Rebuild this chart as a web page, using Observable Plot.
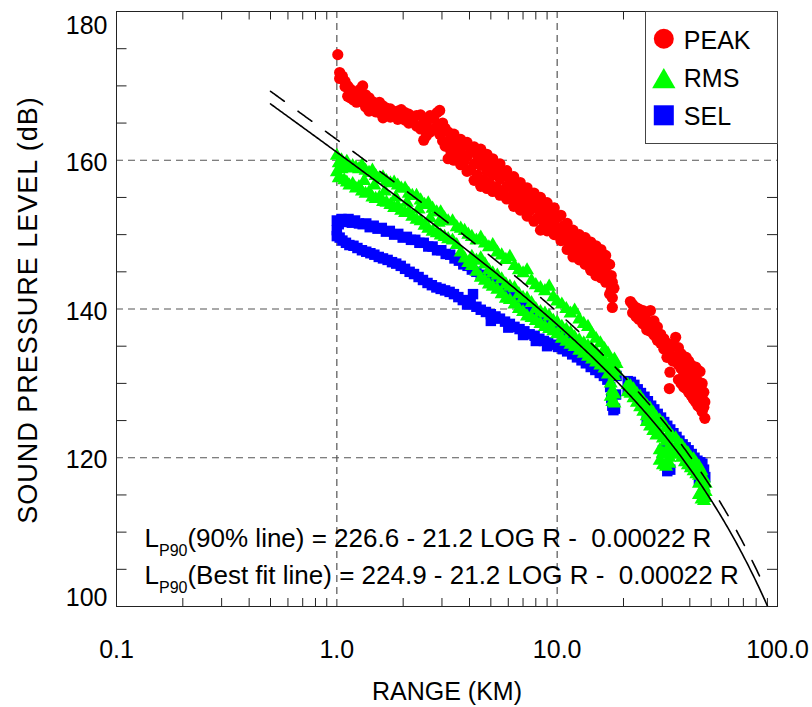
<!DOCTYPE html>
<html><head><meta charset="utf-8">
<script src="https://cdn.jsdelivr.net/npm/d3@7"></script>
<script src="https://cdn.jsdelivr.net/npm/@observablehq/plot@0.6"></script>
<style>
body{margin:0;background:#fff;}
svg{display:block;}
</style></head><body><div id="chart"></div>
<script>
// ---- data (range in km, level in dB) ----
const peakPoints = [
[1.01,174.2],[1.03,171.8],[1.03,171.0],[1.06,171.3],[1.09,170.6],[1.09,169.9],[1.12,170.0],[1.12,168.6],[1.15,168.4],[1.15,169.6],[1.19,169.2],[1.19,168.1],[1.23,169.0],[1.23,167.8],[1.27,168.6],[1.27,169.5],[1.31,170.0],[1.31,168.0],[1.35,168.8],[1.35,167.2],[1.40,168.4],[1.40,166.6],[1.45,167.9],[1.45,167.0],[1.50,167.6],[1.50,166.5],[1.56,167.8],[1.56,166.4],[1.62,167.3],[1.62,165.7],[1.68,167.0],[1.68,166.2],[1.75,166.9],[1.75,165.8],[1.82,166.5],[1.82,165.9],[1.89,166.6],[1.89,165.5],[1.96,166.8],[1.96,165.6],[2.04,166.4],[2.04,165.4],[2.12,166.2],[2.12,165.0],[2.20,165.8],[2.20,165.3],[2.30,166.0],[2.30,164.6],[2.40,166.1],[2.40,164.2],[2.48,165.5],[2.48,162.7],[2.55,165.0],[2.55,163.3],[2.65,166.0],[2.65,163.8],[2.75,165.6],[2.75,164.2],[2.85,166.4],[2.85,164.4],[2.93,166.7],[2.93,163.5],[3.02,165.0],[3.02,162.6],[3.10,164.3],[3.10,161.9],
[3.2,163.8],[3.2,161.8],[3.2,160.2],[3.3,162.9],[3.3,161.0],[3.4,163.5],[3.4,162.0],[3.4,160.0],[3.52,162.6],[3.52,160.6],[3.65,162.8],[3.65,161.0],[3.65,159.4],[3.78,162.0],[3.78,159.8],[3.9,162.4],[3.9,160.5],[3.9,158.5],[4.05,161.2],[4.05,158.7],[4.2,161.8],[4.2,159.5],[4.2,157.3],[4.35,160.6],[4.35,158.0],[4.5,161.5],[4.5,159.3],[4.5,156.5],[4.65,160.2],[4.65,157.3],[4.8,160.8],[4.8,158.5],[4.8,156.2],[4.95,159.4],[4.95,156.8],[5.1,160.2],[5.1,158.0],[5.1,155.8],[5.3,158.9],[5.3,156.4],[5.5,159.5],[5.5,157.5],[5.5,155.3],[5.7,158.1],[5.7,155.9],[5.9,158.6],[5.9,156.5],[5.9,154.8],[6.1,157.3],[6.1,155.0],[6.35,157.8],[6.35,155.8],[6.35,153.8],[6.55,156.6],[6.55,154.6],[6.8,157.0],[6.8,155.0],[6.8,153.3],[7.05,155.9],[7.05,154.0],[7.3,156.3],[7.3,154.5],[7.3,152.5],[7.55,155.2],[7.55,153.3],[7.85,155.6],[7.85,153.6],[7.85,151.8],[8.1,154.3],[8.1,152.2],[8.4,155.0],[8.4,153.0],[8.4,150.6],[8.7,153.8],[8.7,151.6],[9.0,154.3],[9.0,152.4],[9.0,150.5],[9.35,153.0],[9.35,151.0],[9.7,153.6],[9.7,151.7],[9.7,150.0],[10.0,152.3],[10.0,150.1],[10.4,152.6],[10.4,150.8],[10.4,149.2],[10.75,151.2],[10.75,149.3],[11.1,151.5],[11.1,149.8],[11.1,148.0],[11.45,150.3],[11.45,148.3],[11.8,150.6],[11.8,148.8],[11.8,147.0],[12.2,149.6],[12.2,147.6],[12.6,150.0],[12.6,148.3],[12.6,146.6],[13.0,149.0],[13.0,147.1],[13.4,149.6],[13.4,147.8],[13.4,146.0],[13.8,148.6],[13.8,146.5],[14.2,149.0],[14.2,147.3],[14.2,145.2],[14.6,148.0],[14.6,145.8],[15.0,148.5],[15.0,146.8],[15.0,144.5],[15.4,147.5],[15.4,145.3],[15.8,148.0],[15.8,146.3],[15.8,144.2],[16.2,147.0],[16.2,144.8],[16.6,147.2],[16.6,145.5],[16.6,143.6],[17.0,146.0],[17.0,143.9],[17.3,146.0],[17.3,144.0],[17.3,142.0],[17.6,144.5],[17.6,142.6],[17.8,143.6],[17.8,141.5],[17.8,140.2],[18.1,142.8],
[21.5,141.0],[22.0,140.6],[22.0,139.5],[22.8,140.2],[22.8,139.0],[23.0,139.4],[23.5,140.0],[23.5,138.6],[24.5,139.8],[24.5,138.0],[25.0,138.6],[25.5,139.5],[25.5,137.2],[26.5,139.8],[26.5,137.0],[27.0,137.8],[27.5,138.4],[27.5,136.5],[28.5,137.6],[28.5,135.8],[29.0,136.3],[29.5,136.6],[29.5,135.4],[30.5,136.0],[30.5,134.6],[31.0,134.8],[31.5,135.4],[31.5,133.5],[32.3,129.3],[32.5,134.0],[32.5,131.5],[33.0,133.6],[33.5,135.2],[33.5,133.0],[34.5,136.2],[34.5,133.5],[35.0,133.5],[35.5,134.8],[35.5,132.5],[35.5,130.5],[36.5,134.0],[36.5,132.0],[36.5,130.0],[37.0,132.5],[37.5,133.6],[37.5,131.5],[37.5,129.5],[38.5,133.5],[38.5,131.2],[38.5,129.3],[39.0,131.8],[39.5,133.0],[39.5,130.6],[39.5,128.8],[40.5,132.5],[40.5,130.2],[40.5,128.4],[41.0,131.0],[41.5,132.0],[41.5,129.8],[41.5,127.9],[42.5,132.2],[42.5,129.6],[42.5,127.5],[43.0,130.5],[43.5,131.8],[43.5,129.0],[43.5,127.0],[44.5,131.6],[44.5,128.4],[44.5,126.8],[45.0,129.5],[45.5,130.0],[45.5,127.8],[45.5,126.2],[46.3,128.8],[46.3,126.8],[46.5,127.5],[46.8,127.5],[46.8,125.3]
];
const rmsPoints = [
[1.00,160.6],[1.00,158.4],[1.02,159.6],[1.02,157.6],[1.05,160.0],[1.05,158.8],[1.08,159.3],[1.08,157.3],[1.11,159.8],[1.11,157.0],[1.14,158.9],[1.14,156.6],[1.18,159.2],[1.18,156.8],[1.22,159.0],[1.22,156.2],[1.26,158.8],[1.26,156.4],[1.30,159.3],[1.30,155.8],[1.33,157.2],[1.35,158.6],[1.35,155.5],[1.40,158.3],[1.40,155.7],[1.45,158.6],[1.45,155.0],[1.48,156.6],[1.50,157.9],[1.50,154.8],[1.56,157.6],[1.56,155.0],[1.62,157.7],[1.62,154.4],[1.65,155.8],[1.68,157.2],[1.68,154.3],[1.75,156.9],[1.75,154.0],[1.82,157.0],[1.82,153.6],[1.85,155.0],[1.89,156.6],[1.89,153.8],[1.96,156.2],[1.96,153.2],[2.04,156.2],[2.04,152.9],[2.08,154.3],[2.12,155.5],[2.12,153.0],[2.20,155.2],[2.20,152.4],[2.30,155.2],[2.30,152.0],[2.35,153.4],[2.40,154.6],[2.40,151.8],[2.50,154.0],[2.50,151.2],[2.60,154.2],[2.60,150.8],[2.65,152.2],[2.72,153.5],[2.72,150.4],[2.84,153.0],[2.84,150.2],[2.90,151.6],[2.96,153.0],[2.96,149.9],[3.08,152.2],[3.08,149.7],[3.20,151.8],[3.20,149.4],[3.35,151.8],[3.35,149.2],[3.50,151.0],[3.50,148.6],[3.65,150.8],[3.65,147.6],[3.80,150.5],[3.80,146.8],[3.95,150.0],[3.95,146.2],[4.10,149.7],[4.10,147.0],[4.10,145.8],[4.30,149.2],[4.30,146.5],[4.30,145.0],[4.50,149.6],[4.50,146.8],[4.50,144.2],[4.70,148.8],[4.70,146.0],[4.70,143.8],[4.90,148.3],[4.90,145.2],[4.90,143.3],[5.10,148.6],[5.10,144.8],[5.10,143.0],[5.35,147.6],[5.35,144.5],[5.35,142.6],[5.60,147.2],[5.60,144.0],[5.60,142.0],[5.85,146.6],[5.85,143.3],[5.85,141.4],[6.10,147.0],[6.10,143.0],[6.10,141.2],[6.40,145.8],[6.40,142.8],[6.40,140.6],[6.70,145.2],[6.70,142.0],[6.70,140.0],[7.00,144.8],[7.00,141.5],[7.00,139.6],[7.30,145.2],[7.30,141.4],[7.30,139.0],[7.65,143.8],[7.65,140.8],[7.65,138.8],[8.00,143.2],[8.00,140.0],[8.00,138.4],[8.40,142.8],[8.40,139.6],[8.40,138.0],[8.80,142.4],[8.80,139.4],[8.80,137.6],[9.20,143.0],[9.20,139.0],[9.20,137.3],[9.60,141.6],[9.60,138.4],[9.60,137.0],[10.0,141.0],[10.0,138.2],[10.0,136.6],[10.5,140.6],[10.5,137.6],[10.5,136.0],[11.0,140.0],[11.0,137.2],[11.0,135.6],[11.5,139.4],[11.5,136.8],[11.5,135.2],[12.0,139.8],[12.0,136.2],[12.0,134.9],[12.6,138.6],[12.6,135.8],[12.6,134.4],[13.2,138.0],[13.2,135.4],[13.2,134.0],[13.8,137.6],[13.8,135.0],[13.8,133.6],[14.4,136.6],[14.4,134.6],[14.4,133.2],[15.0,136.0],[15.0,134.2],[15.0,132.8],[15.7,135.4],[15.7,133.6],[15.7,132.4],[16.4,134.6],[16.4,133.0],[16.4,132.0],[17.0,134.0],[17.0,132.4],[17.0,131.2],[17.5,133.0],[17.5,130.0],[17.5,128.2],[17.8,131.5],[17.8,129.0],[17.8,127.5],[18.2,133.2],[18.2,131.0],[18.2,128.5],[18.2,127.3],[18.6,132.6],[18.6,131.6],
[20.9,129.8],[20.9,128.8],[21.5,129.6],[21.5,128.6],[22.2,129.2],[22.2,128.0],[23.0,128.6],[23.0,127.4],[23.8,128.2],[23.8,126.8],[24.6,127.6],[24.6,126.2],[25.5,127.0],[25.5,125.6],[25.5,124.8],[26.4,126.6],[26.4,125.0],[26.4,124.2],[27.3,126.0],[27.3,124.4],[27.3,123.6],[28.2,125.4],[28.2,123.8],[28.2,123.0],[29.2,125.0],[29.2,123.2],[29.2,121.0],[29.2,119.6],[30.2,124.6],[30.2,122.6],[30.2,120.6],[30.2,119.0],[31.2,124.0],[31.2,122.2],[31.2,120.4],[31.2,118.8],[32.3,123.4],[32.3,121.6],[32.3,120.0],[32.3,119.2],[33.4,122.8],[33.4,121.2],[33.4,120.5],[34.5,122.6],[34.5,121.0],[34.5,120.6],[35.6,122.0],[35.6,121.0],[35.6,120.4],[36.8,121.6],[36.8,120.6],[36.8,120.0],[38.0,121.0],[38.0,120.2],[38.0,119.4],[39.2,120.6],[39.2,119.8],[39.2,119.0],[40.4,120.0],[40.4,119.4],[40.4,118.6],[41.6,119.8],[41.6,119.0],[41.6,118.2],[42.8,119.2],[42.8,118.4],[42.8,117.8],[44.0,118.8],[44.0,117.6],[44.0,116.5],[44.0,115.0],[45.2,118.2],[45.2,117.0],[45.2,115.5],[45.2,114.4],[46.4,117.2],[46.4,116.0],[46.4,115.0],[46.4,114.2],[47.2,116.5],[47.2,115.4],[47.2,114.6]
];
const selPoints = [
[1.00,151.9],[1.02,151.4],[1.05,152.1],[1.09,151.7],[1.13,152.1],[1.17,151.6],[1.21,151.9],[1.26,151.5],[1.31,151.4],[1.36,151.5],[1.41,151.0],[1.47,151.2],[1.53,150.8],[1.60,150.9],[1.67,150.4],[1.74,150.5],[1.82,150.0],[1.90,150.1],[1.99,149.6],[2.08,149.7],[2.17,149.3],[2.27,149.3],[2.37,148.9],[2.48,148.9],[2.60,148.4],[2.72,148.4],[2.85,147.9],[2.98,147.9],[3.12,147.4],[3.27,147.3],[3.42,146.8],[3.58,146.5],[3.75,146.0],[3.92,145.8],[4.10,145.3],[4.30,145.0],[4.50,144.6],[4.75,144.1],[5.00,143.8],[5.30,143.4],[5.60,143.0],[6.00,142.4],[6.40,141.8],[6.80,141.2],[7.20,140.6],[7.70,140.0],[8.20,139.4],[8.80,138.8],[9.40,138.2],[10.0,137.6],[10.8,136.8],[11.6,136.0],[12.5,135.2],[13.5,134.5],[14.5,133.8],[15.5,133.0],[16.5,132.3],
[1.00,150.6],[1.00,149.8],[1.03,149.6],[1.06,149.2],[1.10,148.9],[1.14,148.6],[1.19,148.5],[1.24,148.2],[1.30,147.9],[1.36,147.7],[1.42,147.5],[1.48,147.3],[1.55,147.0],[1.62,146.8],[1.70,146.6],[1.78,146.3],[1.86,146.1],[1.95,145.8],[2.04,145.4],[2.14,145.0],[2.24,144.7],[2.35,144.3],[2.46,143.9],[2.58,143.5],[2.70,143.2],[2.83,142.9],[2.96,142.7],[3.10,142.5],[3.25,142.3],[3.40,142.0],[3.56,141.6],[3.73,141.2],[3.90,140.6],[4.05,141.0],[4.15,142.0],[4.30,140.3],[4.50,139.9],[4.75,139.6],[5.00,139.3],[5.00,138.4],[5.25,139.0],[5.50,138.7],[5.80,138.3],[6.00,137.5],[6.10,138.0],[6.40,137.6],[6.75,137.3],[7.00,136.5],[7.10,137.0],[7.50,136.6],[7.90,136.4],[8.00,135.7],[8.30,136.0],[8.70,135.7],[9.00,135.0],[9.10,135.5],[9.60,135.2],[10.1,134.9],[10.6,134.6],[11.1,134.3],[11.7,133.9],[12.3,133.5],[12.9,133.1],[13.5,132.7],[14.2,132.2],[14.9,131.8],[15.6,131.4],[16.3,131.0],[16.9,130.5],[17.4,129.5],[17.6,128.0],[17.8,127.0],[18.0,126.4],[18.3,126.6],[18.5,128.5],[18.6,131.0],
[20.9,130.3],[20.9,129.0],[21.6,130.2],[22.4,129.8],[23.2,129.2],[24.0,128.7],[24.9,128.2],[25.5,125.0],[25.8,127.6],[26.7,127.0],[27.6,126.5],[28.6,125.9],[29.6,125.4],[30.2,121.0],[30.6,124.8],[31.6,124.3],[31.6,118.2],[32.6,123.8],[32.6,118.4],[33.7,123.3],[34.8,122.8],[35.6,120.8],[35.9,122.3],[37.1,121.8],[38.3,121.4],[39.5,121.0],[40.4,119.0],[40.8,120.5],[42.0,120.0],[43.3,119.6],[44.0,116.8],[44.6,119.4],[45.6,119.2],[46.4,115.4],[46.4,118.4],[47.0,117.4]
];
// axis ticks and labels
const xTickValues = [0.1, 1, 10, 100];
const xTickLabels = ["0.1", "1.0", "10.0", "100.0"];
const yTickMid = [120, 140, 160];
const yTickTop = [180];
const yTickBottom = [100];
const xMinorTicks = [0.2,0.3,0.4,0.5,0.6,0.7,0.8,0.9,2,3,4,5,6,7,8,9,20,30,40,50,60,70,80,90];
const yMinorTicks = [105,110,115,125,130,135,145,150,155,165,170,175];
const gridX = [1, 10];
const gridY = [120, 140, 160];
// fit equations (as printed on the chart; R in metres)
const fitBest = {intercept: 224.9, logCoef: 21.2, linCoef: 0.00022};
const fit90 = {intercept: 226.6, logCoef: 21.2, linCoef: 0.00022};
const fitStartKm = 0.5, fitEndKm = 100, fit90EndKm = 87;
const eqPrefix = ["L", "L"];
const eqSub = ["P90", "P90"];
const eqBody = ["(90% line) = 226.6 - 21.2 LOG R -  0.00022 R", "(Best fit line) = 224.9 - 21.2 LOG R -  0.00022 R"];
const legendNames = ["PEAK", "RMS", "SEL"];
const legendColors = ["#ff0000", "#00ff00", "#0000ff"];
const legendSymbols = ["circle", "triangle", "square"];

function curve(f, endKm) {
  return d3.range(0, 401).map(i => fitStartKm * Math.pow(endKm / fitStartKm, i / 400))
    .map(R => ({R, L: f.intercept - f.logCoef * Math.log10(R * 1000) - f.linCoef * R * 1000}))
    .filter(d => d.L >= 98.5);
}

const W = 812, H = 707, mL = 116, mR = 35, mT = 11, mB = 101;
const fw = W - mL - mR, fh = H - mT - mB;
const font = "'Liberation Sans', Arial, Helvetica, sans-serif";

const legendMarks = [];
const legDy = [27.3, 70, 103.8];
const legR = [10, 8.65, 11.3];
const textDy = [29.5, 67.5, 105];
legendNames.forEach((n, i) => {
  legendMarks.push(Plot.dot([n], {frameAnchor: "top-right", dx: -113.7, dy: legDy[i], r: legR[i], symbol: legendSymbols[i], fill: legendColors[i]}));
  legendMarks.push(Plot.text([n], {text: d => d, frameAnchor: "top-right", dx: -93.7, dy: textDy[i], textAnchor: "start", lineAnchor: "middle", fontSize: 25, fill: "#000"}));
});

const plot = Plot.plot({
  width: W, height: H,
  marginLeft: mL, marginRight: mR, marginTop: mT, marginBottom: mB,
  style: {fontFamily: font, background: "#fff", color: "#000"},
  x: {type: "log", domain: [0.1, 100], axis: null},
  y: {domain: [100, 180], axis: null},
  marks: [
    Plot.ruleX(gridX, {x: d => d, stroke: "#555", strokeWidth: 1.2, strokeDasharray: "7,5"}),
    Plot.ruleY(gridY, {y: d => d, stroke: "#555", strokeWidth: 1.2, strokeDasharray: "7,5"}),
    Plot.ruleX(xMinorTicks, {x: d => d, insetTop: fh - 8, stroke: "#222"}),
    Plot.ruleX(xMinorTicks, {x: d => d, insetBottom: fh - 8.5, stroke: "#222"}),
    Plot.ruleY(yMinorTicks, {y: d => d, insetRight: fw - 10.5, stroke: "#222"}),
    Plot.ruleY(yMinorTicks, {y: d => d, insetLeft: fw - 10, stroke: "#222"}),
    Plot.dot(selPoints, {x: d => d[0], y: d => d[1], r: 5.9, symbol: "square", fill: "#0000ff"}),
    Plot.dot(rmsPoints, {x: d => d[0], y: d => d[1], r: 5.2, symbol: "triangle", fill: "#00ff00"}),
    Plot.dot(peakPoints, {x: d => d[0], y: d => d[1], r: 5.6, symbol: "circle", fill: "#ff0000"}),
    Plot.line(curve(fitBest, fitEndKm), {x: "R", y: "L", stroke: "#000", strokeWidth: 1.6, clip: true}),
    Plot.line(curve(fit90, fit90EndKm), {x: "R", y: "L", stroke: "#000", strokeWidth: 1.6, strokeDasharray: "17,17", clip: true}),
    Plot.frame({stroke: "#222"}),
    Plot.frame({insetLeft: 529, insetBottom: 463, stroke: "#444", fill: "#fff"}),
    ...legendMarks,
    Plot.text(xTickValues, {x: d => d, text: (d, i) => xTickLabels[i], frameAnchor: "bottom", lineAnchor: "middle", dy: 43, fontSize: 25, fill: "#000"}),
    Plot.text(yTickMid, {y: d => d, text: d => String(d), frameAnchor: "left", lineAnchor: "middle", dx: -9, dy: 2.5, textAnchor: "end", fontSize: 25, fill: "#000"}),
    Plot.text(yTickTop, {y: d => d, text: d => String(d), frameAnchor: "left", lineAnchor: "middle", dx: -9, dy: 14, textAnchor: "end", fontSize: 25, fill: "#000"}),
    Plot.text(yTickBottom, {y: d => d, text: d => String(d), frameAnchor: "left", lineAnchor: "middle", dx: -9, dy: -9, textAnchor: "end", fontSize: 25, fill: "#000"}),
    Plot.text(["RANGE (KM)"], {text: d => d, frameAnchor: "bottom", lineAnchor: "middle", dy: 85, fontSize: 25, fill: "#000"}),
    Plot.text(["SOUND PRESSURE LEVEL (dB)"], {text: d => d, frameAnchor: "left", textAnchor: "middle", lineAnchor: "middle", dx: -88, dy: 1, rotate: -90, fontSize: 27, fill: "#000"}),
    Plot.text(eqBody, {text: (d, i) => eqPrefix[i] + eqSub[i] + d, frameAnchor: "bottom-left", dx: 28, dy: -67.6, textAnchor: "start", lineAnchor: "middle", fontSize: 26, fill: "#000", filter: (d, i) => i === 0}),
    Plot.text(eqBody, {text: (d, i) => eqPrefix[i] + eqSub[i] + d, frameAnchor: "bottom-left", dx: 28, dy: -31, textAnchor: "start", lineAnchor: "middle", fontSize: 26, fill: "#000", filter: (d, i) => i === 1})
  ]
});
document.getElementById("chart").appendChild(plot);

// post-process: subscripts in the equations, letter spacing for the y title
const svg = d3.select(plot);
svg.selectAll("text").each(function() {
  const el = d3.select(this);
  const content = this.textContent;
  const idx = eqBody.findIndex((b, i) => content === eqPrefix[i] + eqSub[i] + b);
  if (idx >= 0) {
    el.text(null).style("white-space", "pre");
    el.append("tspan").text(eqPrefix[idx]);
    el.append("tspan").attr("font-size", 16).attr("dy", 9).text(eqSub[idx]);
    el.append("tspan").attr("dy", -9).text(eqBody[idx]);
  } else if (content === "SOUND PRESSURE LEVEL (dB)") {
    el.style("letter-spacing", "1px");
  }
});
</script></body></html>
